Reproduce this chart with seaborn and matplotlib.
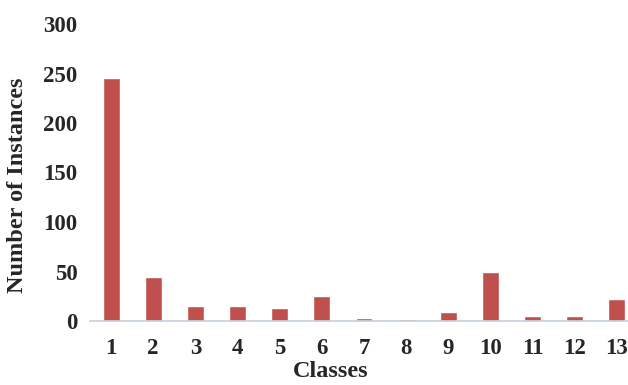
import matplotlib as mpl
mpl.use('Agg')
import matplotlib.pyplot as plt
import pandas as pd
import seaborn as sns

# classes and instance counts
classes = ['1', '2', '3', '4', '5', '6', '7', '8', '9', '10', '11', '12', '13']
counts = [245, 44, 15, 15, 13, 25, 3, 2, 9, 49, 5, 5, 22]
yticks = [0, 50, 100, 150, 200, 250, 300]

df = pd.DataFrame({'Classes': classes, 'Number of Instances': counts})

sns.set_style('white')
plt.rcParams['font.family'] = ['Liberation Serif', 'DejaVu Serif']
plt.rcParams['font.weight'] = 'bold'

fig = plt.figure(figsize=(6.28, 3.85), dpi=100)
ax = fig.add_axes([90/628, 64/385, 548/628, 297/385])

sns.barplot(data=df, x='Classes', y='Number of Instances', color='#C0504D',
            saturation=1, width=0.4, ax=ax)

ax.set_ylim(0, 300)
ax.set_yticks(yticks)
ax.set_xlim(-0.5, 12.5)
for s in ['top', 'right', 'left']:
    ax.spines[s].set_visible(False)
ax.spines['bottom'].set_color('#C5D1DD')
ax.spines['bottom'].set_linewidth(1.2)
ax.tick_params(axis='both', length=0, labelsize=16.5)
ax.tick_params(axis='x', pad=12)
ax.tick_params(axis='y', pad=9)
for lab in ax.get_xticklabels() + ax.get_yticklabels():
    lab.set_fontweight('bold')

ax.set_xlabel('Classes', fontsize=17.5, fontweight='bold')
ax.xaxis.set_label_coords((331 - 90) / 548, -0.205)
ax.xaxis.label.set_verticalalignment('bottom')
ax.set_ylabel('Number of Instances', fontsize=17.5, fontweight='bold')
ax.yaxis.set_label_coords(-0.113, 0.458)

fig.savefig('out.png', dpi=100)
